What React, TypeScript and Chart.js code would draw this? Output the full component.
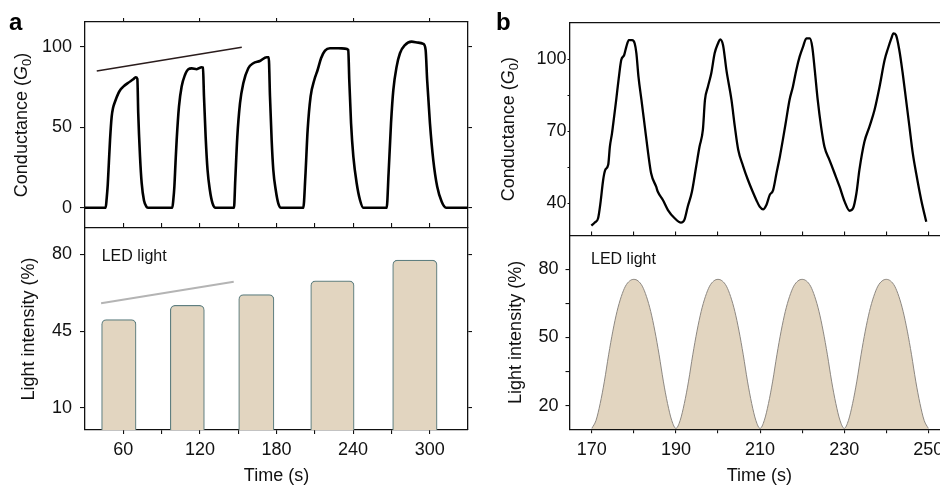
import React, { useEffect, useRef } from 'react';
import { Chart, registerables } from 'chart.js';

Chart.register(...registerables);

// ---------------- Data ----------------
// Panel a (top): conductance trace (s, G0)
const aTime = [
  30, 46.2, 47, 47.8, 48.7, 49.6, 50.9, 52, 53.5, 56.1, 58, 60, 63.9, 67.8, 69.7, 71, 71.7, 73.1, 74.4, 76.2, 78.3, 79.6,
  98.4, 99.2, 100, 100.9, 101.8, 103.6, 105.7, 108.3, 110.9, 113.6, 117.5, 121.4, 122.4, 123.2, 124.5, 126, 127.8, 129.9, 132.3,
  146.7, 147.7, 149.3, 151.4, 154, 157.9, 161.8, 167, 172.3, 173.9, 174.9, 176.2, 177.5, 179.4, 181.4, 183.5,
  201, 202.6, 204.4, 206.7, 209.6, 212.2, 214.9, 218, 221.9, 228.4, 233.6, 236.2, 237, 238.4, 240.2, 242.8, 245.4, 248,
  266.3, 267.8, 269.7, 271.5, 274.1, 276.7, 280.6, 285.8, 291, 295, 296.8, 298, 300.2, 302.8, 305.9, 309.4, 312.8, 330,
];
const aCond = [
  0, 0, 6, 14, 28, 42, 56.5, 62, 65.8, 71, 73.5, 75.2, 77.6, 79.7, 81, 80, 58.6, 31.7, 15.2, 4.5, 0.5, 0,
  0, 5, 13, 28, 42, 62.7, 75.2, 82.4, 86, 86.5, 86, 87.2, 87, 69, 44, 23.4, 11, 2.7, 0,
  0, 17, 44, 64.8, 77.3, 86.6, 89.7, 91.1, 93.4, 93.4, 69, 42, 23.4, 11, 2.7, 0,
  0, 19.3, 48.3, 69, 79.3, 85.5, 92.8, 97.5, 99, 99, 98.8, 98, 79.3, 52.4, 31.7, 15.2, 4.8, 0,
  0, 21.4, 52.4, 73, 87.6, 95.9, 101, 103.1, 102.5, 101.7, 98, 79.3, 52.4, 29.6, 13, 3.7, 0, 0,
];
const aTrendTime = [39.2, 152.8];
const aTrendCond = [84.9, 99.6];

// Panel a (bottom): LED pulses
const ledStart = [43, 96.8, 150.4, 206.8, 271];
const ledEnd = [70, 123.5, 178, 240.8, 305.8];
const ledLevel = [50.3, 56.8, 61.7, 67.9, 77.4];
const ledTrendTime = [42.6, 146.5];
const ledTrendLevel = [57.7, 67.5];

// Panel b (top): conductance trace
const bTime = [
  169.9, 170.7, 171.5, 172.1, 172.7, 173.2, 173.9, 174.3, 174.8, 175.3,
  175.8, 176.4, 177, 177.7, 178.2, 178.8, 179.6, 180.2, 180.6, 181.1,
  181.8, 182.6, 183.4, 184.1, 185.3, 185.7, 186.9, 188.1, 189.7, 191.2,
  192, 192.8, 193.8, 194.8, 195.6, 196.4, 196.9, 197.6, 198.4, 199.2,
  200, 200.5, 201.2, 202, 203.2, 204, 204.8, 206, 207.1, 208.2,
  209.1, 209.9, 210.7, 211.5, 212.3, 213.1, 213.9, 214.7, 215.4, 216.2,
  217, 217.8, 218.6, 219.4, 220.2, 221, 221.8, 222.4, 223, 223.7,
  224.5, 225.3, 226.5, 227.7, 228.9, 230.1, 231.3, 232.1, 232.9, 233.6,
  234.8, 236, 237.2, 238.4, 239.6, 240.4, 241.2, 241.7, 242.3, 243.1,
  243.9, 244.7, 245.5, 246.3, 247.1, 248.3, 249.5,
];
const bCond = [
  30.7, 32, 33.8, 40.7, 49.7, 53.9, 56, 63.6, 69.1, 76,
  83, 92, 99.6, 101.7, 105.1, 107.9, 107.9, 106.5, 102.4, 92.6,
  83, 71.9, 60.8, 52.5, 46.9, 44.8, 41.4, 37.2, 33.8, 32,
  33.1, 38.6, 44.8, 55.2, 63.5, 70.5, 83, 88.5, 94.1, 102.4,
  106.5, 108.2, 105.8, 95.4, 83, 71.9, 62.3, 55.3, 49.8, 45,
  41.4, 38.6, 37.5, 39.3, 43.5, 45.5, 52.5, 59.4, 66.3, 74.6,
  83, 88.5, 95.4, 101, 105.1, 108.6, 108.6, 105.1, 95.4, 83,
  71.9, 63.5, 58, 52.5, 46.9, 40.7, 36.9, 37.9, 44.2, 53.8,
  65.6, 71.9, 78.8, 88.5, 99.6, 104.4, 108.6, 110.7, 110, 103.7,
  94.1, 83, 71.9, 60.8, 52.5, 41.4, 32.3,
];

// Panel b (bottom): LED light intensity
const bLedTime = [
  170, 171, 172, 173, 174, 175, 176, 177, 178, 179, 180, 181, 182, 183, 184, 185, 186, 187, 188, 189,
  190, 191, 192, 193, 194, 195, 196, 197, 198, 199, 200, 201, 202, 203, 204, 205, 206, 207, 208, 209,
  210, 211, 212, 213, 214, 215, 216, 217, 218, 219, 220, 221, 222, 223, 224, 225, 226, 227, 228, 229,
  230, 231, 232, 233, 234, 235, 236, 237, 238, 239, 240, 241, 242, 243, 244, 245, 246, 247, 248, 249,
  250,
];
const bLedLevel = [
  10, 13.5, 21, 30.8, 42.4, 52.8, 61.5, 68, 72.6, 74.9, 75.6, 74.9, 72.6, 68, 61.5, 52.8, 42.4, 30.8, 21, 13.5,
  10, 13.5, 21, 30.8, 42.4, 52.8, 61.5, 68, 72.6, 74.9, 75.6, 74.9, 72.6, 68, 61.5, 52.8, 42.4, 30.8, 21, 13.5,
  10, 13.5, 21, 30.8, 42.4, 52.8, 61.5, 68, 72.6, 74.9, 75.6, 74.9, 72.6, 68, 61.5, 52.8, 42.4, 30.8, 21, 13.5,
  10, 13.5, 21, 30.8, 42.4, 52.8, 61.5, 68, 72.6, 74.9, 75.6, 74.9, 72.6, 68, 61.5, 52.8, 42.4, 30.8, 21, 13.5,
  10,
];

// Tick values
const aTimeTicks = [60, 120, 180, 240, 300];
const aTimeMinor = [90, 150, 210, 270];
const aCondTicks = [0, 50, 100];
const aLedTicks = [10, 45, 80];
const bTimeTicks = [170, 190, 210, 230, 250];
const bTimeMinor = [180, 200, 220, 240];
const bCondTicks = [40, 70, 100];
const bCondMinor = [55, 85];
const bLedTicks = [20, 50, 80];
const bLedMinor = [35, 65];

// ---------------- Styling helpers ----------------
const FONT = "'Liberation Sans', Arial, Helvetica, sans-serif";
const INK = '#111111';
const BEIGE = '#e2d5c0';
const W = 960;
const H = 486;

Chart.defaults.font.family = FONT;
Chart.defaults.color = INK;

type AxisSpec = {
  pos: 'left' | 'right' | 'top' | 'bottom';
  min: number;
  max: number;
  major: number[];
  minor?: number[];
  labels?: boolean;
  tick?: number;
  pad?: number;
  size: number;
  title?: string;
};

function axis(a: AxisSpec) {
  const horiz = a.pos === 'top' || a.pos === 'bottom';
  const all = [...a.major, ...(a.minor || [])].sort((p, q) => p - q);
  const tick = a.tick ?? 0;
  return {
    type: 'linear',
    position: a.pos,
    min: a.min,
    max: a.max,
    offset: false,
    afterBuildTicks: (s: any) => {
      s.ticks = all.map((v) => ({ value: v }));
    },
    afterFit: (s: any) => {
      if (horiz) s.height = a.size;
      else s.width = a.size;
    },
    ticks: {
      display: !!a.labels,
      autoSkip: false,
      maxRotation: 0,
      minRotation: 0,
      padding: a.pad ?? 4,
      color: INK,
      font: { size: 18, family: FONT },
      callback: (v: number) => (a.major.includes(v) ? String(v) : ''),
    },
    grid: {
      display: tick > 0,
      drawOnChartArea: false,
      drawTicks: tick > 0,
      tickLength: tick,
      color: INK,
      lineWidth: 1.1,
      offset: false,
    },
    border: { display: true, color: INK, width: 1.3 },
    title: a.title
      ? {
          display: true,
          text: a.title,
          color: INK,
          font: { size: 18, family: FONT, lineHeight: 1 },
          padding: { top: 0, bottom: 1 },
        }
      : { display: false },
  };
}

type Seg = { text: string; italic?: boolean; size?: number; dy?: number };

function yTitlePlugin(id: string, segs: Seg[], baseX: number) {
  return {
    id,
    afterDraw(chart: any) {
      const { ctx, chartArea } = chart;
      const cy = (chartArea.top + chartArea.bottom) / 2;
      ctx.save();
      ctx.fillStyle = INK;
      ctx.textBaseline = 'alphabetic';
      ctx.textAlign = 'left';
      const fonts = segs.map((s) => `${s.italic ? 'italic ' : ''}${s.size || 18}px ${FONT}`);
      let total = 0;
      const widths = segs.map((s, i) => {
        ctx.font = fonts[i];
        const w = ctx.measureText(s.text).width;
        total += w;
        return w;
      });
      ctx.translate(baseX, cy);
      ctx.rotate(-Math.PI / 2);
      let x = -total / 2;
      segs.forEach((s, i) => {
        ctx.font = fonts[i];
        ctx.fillText(s.text, x, s.dy || 0);
        x += widths[i];
      });
      ctx.restore();
    },
  };
}

function notePlugin(id: string, text: string, dx: number, dy: number) {
  return {
    id,
    afterDraw(chart: any) {
      const { ctx, chartArea } = chart;
      ctx.save();
      ctx.font = `16px ${FONT}`;
      ctx.fillStyle = INK;
      ctx.textBaseline = 'alphabetic';
      ctx.textAlign = 'left';
      ctx.fillText(text, chartArea.left + dx, chartArea.top + dy);
      ctx.restore();
    },
  };
}

const condSegs: Seg[] = [
  { text: 'Conductance (' },
  { text: 'G', italic: true },
  { text: '0', size: 13, dy: 4 },
  { text: ')' },
];
const lightSegs: Seg[] = [{ text: 'Light intensity (%)' }];

const pts = (xs: number[], ys: number[]) => xs.map((x, i) => ({ x, y: ys[i] }));

const baseOpts = (padding: any) => ({
  animation: false,
  responsive: false,
  events: [],
  layout: { padding, autoPadding: false },
  plugins: { legend: { display: false }, tooltip: { enabled: false } },
});

// ---------------- Chart configs ----------------
function cfgATop(): any {
  const xr = { min: 30, max: 330 };
  const yr = { min: -12.6, max: 115.3 };
  return {
    type: 'line',
    data: {
      datasets: [
        {
          data: pts(aTime, aCond),
          borderColor: '#000',
          borderWidth: 2.6,
          pointRadius: 0,
          cubicInterpolationMode: 'monotone',
        },
        {
          data: pts(aTrendTime, aTrendCond),
          borderColor: '#2a1c1c',
          borderWidth: 1.6,
          pointRadius: 0,
        },
      ],
    },
    options: {
      ...baseOpts({ left: 0, top: 0, right: W - 468 - 12, bottom: H - 228 }),
      scales: {
        x: axis({ pos: 'top', ...xr, major: aTimeTicks, tick: 4, size: 22 }),
        y: axis({ pos: 'left', ...yr, major: aCondTicks, labels: true, tick: 5, pad: 8, size: 85 }),
        y2: axis({ pos: 'right', ...yr, major: aCondTicks, tick: 4, size: 12 }),
      },
    },
    plugins: [yTitlePlugin('aTopTitle', condSegs, 27)],
  };
}

function cfgABottom(): any {
  const xr = { min: 30, max: 330 };
  const yr = { min: 0, max: 92 };
  const bars = ledLevel.map((lv, i) => ({
    type: 'bar',
    data: [{ x: (ledStart[i] + ledEnd[i]) / 2, y: lv }],
    backgroundColor: BEIGE,
    borderColor: '#5f7f80',
    borderWidth: 1.2,
    borderRadius: 5,
    borderSkipped: 'start',
    grouped: false,
    barThickness: (ctx: any) => {
      const sx = ctx.chart.scales.x;
      if (!sx) return 30;
      return sx.getPixelForValue(ledEnd[i]) - sx.getPixelForValue(ledStart[i]);
    },
  }));
  return {
    type: 'line',
    data: {
      datasets: [
        {
          type: 'line',
          data: pts(ledTrendTime, ledTrendLevel),
          borderColor: '#b4b4b4',
          borderWidth: 2,
          pointRadius: 0,
        },
        ...bars,
      ],
    },
    options: {
      ...baseOpts({ left: 0, top: 228 - 10, right: W - 468 - 12, bottom: 0 }),
      scales: {
        x: axis({
          pos: 'bottom', ...xr, major: aTimeTicks, minor: aTimeMinor, labels: true,
          tick: 4, pad: 5, size: H - 430, title: 'Time (s)',
        }),
        x2: axis({ pos: 'top', ...xr, major: aTimeTicks, minor: aTimeMinor, tick: 5, size: 10 }),
        y: axis({ pos: 'left', ...yr, major: aLedTicks, labels: true, tick: 5, pad: 8, size: 85 }),
        y2: axis({ pos: 'right', ...yr, major: aLedTicks, tick: 4, size: 12 }),
      },
    },
    plugins: [yTitlePlugin('aBotTitle', lightSegs, 34), notePlugin('aNote', 'LED light', 16.7, 32.5)],
  };
}

function cfgBTop(): any {
  const xr = { min: 164.7, max: 255 };
  const yr = { min: 26.4, max: 115.3 };
  return {
    type: 'line',
    data: {
      datasets: [
        {
          data: pts(bTime, bCond),
          borderColor: '#000',
          borderWidth: 2.3,
          pointRadius: 0,
          cubicInterpolationMode: 'monotone',
        },
      ],
    },
    options: {
      ...baseOpts({ left: 569.5 - 60, top: 22.3 - 12, right: W - 949.4 - 5, bottom: H - 236 }),
      scales: {
        x: axis({ pos: 'top', ...xr, major: bTimeTicks, tick: 0, size: 12 }),
        y: axis({
          pos: 'left', ...yr, major: bCondTicks, minor: bCondMinor, labels: true,
          tick: 2, pad: 1, size: 60,
        }),
        y2: axis({ pos: 'right', ...yr, major: bCondTicks, tick: 0, size: 5 }),
      },
    },
    plugins: [yTitlePlugin('bTopTitle', condSegs, 514)],
  };
}

function cfgBBottom(): any {
  const xr = { min: 164.7, max: 255 };
  const yr = { min: 9.6, max: 94.9 };
  return {
    type: 'line',
    data: {
      datasets: [
        {
          data: pts(bLedTime, bLedLevel),
          borderColor: '#8d8882',
          borderWidth: 1,
          backgroundColor: BEIGE,
          fill: 'start',
          pointRadius: 0,
          cubicInterpolationMode: 'monotone',
        },
      ],
    },
    options: {
      ...baseOpts({ left: 569.5 - 60, top: 235.5 - 10, right: W - 949.4 - 5, bottom: 0 }),
      scales: {
        x: axis({
          pos: 'bottom', ...xr, major: bTimeTicks, minor: bTimeMinor, labels: true,
          tick: 4, pad: 6, size: H - 429.3, title: 'Time (s)',
        }),
        x2: axis({ pos: 'top', ...xr, major: bTimeTicks, minor: bTimeMinor, tick: 4, size: 10 }),
        y: axis({
          pos: 'left', ...yr, major: bLedTicks, minor: bLedMinor, labels: true,
          tick: 4, pad: 7, size: 60,
        }),
        y2: axis({ pos: 'right', ...yr, major: bLedTicks, tick: 0, size: 5 }),
      },
    },
    plugins: [yTitlePlugin('bBotTitle', lightSegs, 521), notePlugin('bNote', 'LED light', 21.5, 28.5)],
  };
}

// ---------------- Component ----------------
export default function App() {
  const r1 = useRef<HTMLCanvasElement>(null);
  const r2 = useRef<HTMLCanvasElement>(null);
  const r3 = useRef<HTMLCanvasElement>(null);
  const r4 = useRef<HTMLCanvasElement>(null);

  useEffect(() => {
    const charts = [
      new Chart(r1.current!, cfgATop()),
      new Chart(r2.current!, cfgABottom()),
      new Chart(r3.current!, cfgBTop()),
      new Chart(r4.current!, cfgBBottom()),
    ];
    return () => charts.forEach((c) => c.destroy());
  }, []);

  const cv: React.CSSProperties = { position: 'absolute', left: 0, top: 0, width: W, height: H };
  const lab: React.CSSProperties = {
    position: 'absolute',
    top: 10,
    font: `bold 24px ${FONT}`,
    lineHeight: '24px',
    color: '#000',
  };

  return (
    <div
      style={{
        position: 'fixed',
        left: 0,
        top: 0,
        width: 940,
        height: 486,
        overflow: 'hidden',
        background: '#fff',
      }}
    >
      <canvas ref={r1} width={W} height={H} style={cv} />
      <canvas ref={r2} width={W} height={H} style={cv} />
      <canvas ref={r3} width={W} height={H} style={cv} />
      <canvas ref={r4} width={W} height={H} style={cv} />
      <div style={{ ...lab, left: 9 }}>a</div>
      <div style={{ ...lab, left: 496 }}>b</div>
    </div>
  );
}
